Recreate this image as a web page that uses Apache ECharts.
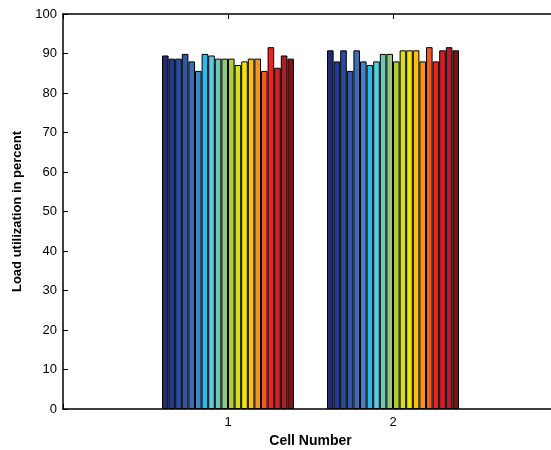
<!DOCTYPE html>
<html>
<head>
<meta charset="utf-8">
<script src="https://cdn.jsdelivr.net/npm/echarts@6/dist/echarts.min.js"></script>
<style>
html,body{margin:0;padding:0;background:#fff;overflow:hidden;}
#c{width:551px;height:450px;}
</style>
</head>
<body>
<div id="c"></div>
<script>
// Cell numbers (group positions)
const cells = [1, 2];
// Load utilization (%) for each of 20 bars per cell
const barValues = [
  [89.5, 90.8],
  [88.7, 88.0],
  [88.7, 90.8],
  [89.9, 85.6],
  [88.0, 90.8],
  [85.6, 88.0],
  [89.9, 87.1],
  [89.5, 88.0],
  [88.7, 89.9],
  [88.7, 89.9],
  [88.7, 88.0],
  [87.1, 90.8],
  [88.0, 90.8],
  [88.7, 90.8],
  [88.7, 88.0],
  [85.6, 91.6],
  [91.6, 88.0],
  [86.4, 90.8],
  [89.5, 91.6],
  [88.7, 90.8]
];
const barColors = [
  '#232c72', '#243a92', '#2b4b9c', '#2f59a6', '#3a6db4', '#3f86c5',
  '#2bbbea', '#5dcbdf', '#6fc6b3', '#8dc97c', '#aecc3c', '#d6de1f',
  '#f2e50f', '#fdbd12', '#f7941d', '#f15a22', '#ed2224', '#d41f26',
  '#ad1f24', '#7a1315'
];
const yTicks = [0, 10, 20, 30, 40, 50, 60, 70, 80, 90, 100];

const chart = echarts.init(document.getElementById('c'));
const font = 'Liberation Sans, Arial, Helvetica, sans-serif';
const series = barValues.map((vals, i) => ({
  type: 'bar',
  data: cells.map((c, j) => [c, vals[j]]),
  barWidth: 6.6,
  barGap: '0%',
  itemStyle: { color: barColors[i], borderColor: '#000', borderWidth: 1 },
  animation: false,
  silent: true
}));

chart.setOption({
  animation: false,
  grid: { left: 63, top: 14, width: 495, height: 395, outerBoundsMode: 'none', containLabel: false },
  xAxis: [{
    type: 'value', min: 0, max: 3, interval: 1,
    name: 'Cell Number', nameLocation: 'middle', nameGap: 22,
    nameTextStyle: { fontFamily: font, fontWeight: 'bold', fontSize: 14, color: '#000' },
    axisLine: { show: true, lineStyle: { color: '#000', width: 1.5 } },
    axisTick: { show: true, inside: true, length: 5, lineStyle: { color: '#000' } },
    axisLabel: { fontFamily: font, fontSize: 13, color: '#000', margin: 7,
      formatter: v => (cells.indexOf(v) >= 0 ? String(v) : '') },
    splitLine: { show: false }
  }, {
    type: 'value', min: 0, max: 3, interval: 1, position: 'top',
    axisLine: { show: true, onZero: false, lineStyle: { color: '#000', width: 1.5 } },
    axisTick: { show: true, inside: true, length: 5, lineStyle: { color: '#000' } },
    axisLabel: { show: false },
    splitLine: { show: false }
  }],
  yAxis: {
    type: 'value', min: yTicks[0], max: yTicks[yTicks.length - 1], interval: 10,
    name: 'Load utilization in percent', nameLocation: 'middle', nameGap: 37,
    nameTextStyle: { fontFamily: font, fontWeight: 'bold', fontSize: 13, color: '#000' },
    axisLine: { show: true, lineStyle: { color: '#000', width: 1.5 } },
    axisTick: { show: true, inside: true, length: 5, lineStyle: { color: '#000' } },
    axisLabel: { fontFamily: font, fontSize: 13, color: '#000', margin: 6 },
    splitLine: { show: false }
  },
  series: series
});
</script>
</body>
</html>
